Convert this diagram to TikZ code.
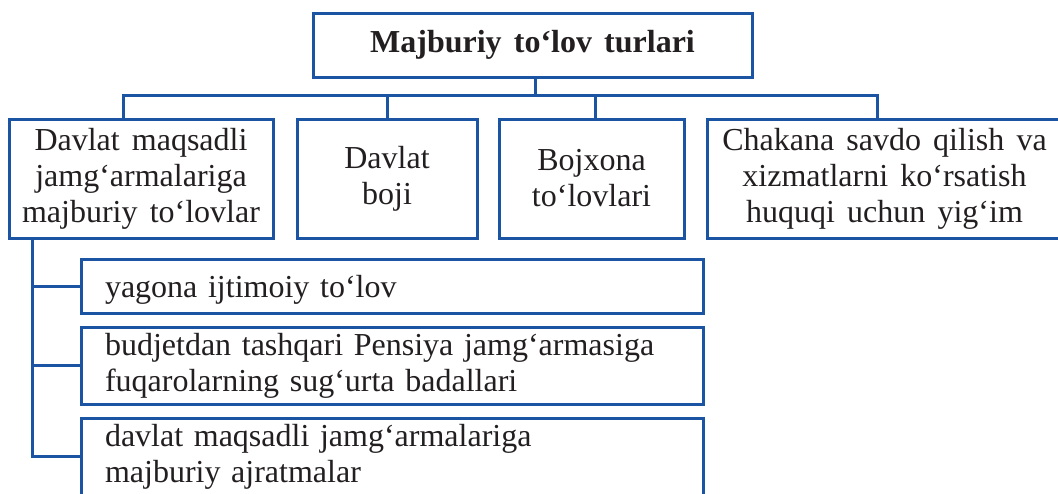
\documentclass[tikz,border=0pt]{standalone}
\usepackage{fontspec}
\setmainfont{Liberation Serif}
\usepackage{xcolor}
\definecolor{frame}{HTML}{1C54A4}
\definecolor{ink}{HTML}{231F20}
\newcommand{\payfont}{\fontsize{32}{36}\selectfont\spaceskip=0.38em plus 0.1em\relax}
\tikzset{
  payBox/.style={draw=frame, line width=3pt, text=ink, font=\payfont, align=center, inner sep=0pt},
  payTitle/.style={payBox, font=\payfont\bfseries},
  paySub/.style={payBox, align=left, text width=574pt, inner xsep=24pt},
  payLink/.style={draw=frame, line width=3pt}
}

\begin{document}
\begin{tikzpicture}[x=1pt,y=-1pt]
  \useasboundingbox (0,0) rectangle (1058,493);
  \clip (0,0) rectangle (1058,493);

  \node[payTitle, minimum width=439pt, minimum height=64pt] (turlar) at (532.5,45) {Majburiy to‘lov turlari};

  \node[payBox, minimum width=264pt, minimum height=119pt] (jamgarma) at (141,178.5) {Davlat maqsadli\\jamg‘armalariga\\majburiy to‘lovlar};
  \node[payBox, minimum width=180pt, minimum height=119pt] (boj) at (387,178.5) {Davlat\\boji};
  \node[payBox, minimum width=185pt, minimum height=119pt] (bojxona) at (591.5,178.5) {Bojxona\\to‘lovlari};
  \node[payBox, minimum width=355pt, minimum height=119pt] (yigim) at (884.5,178.5) {Chakana savdo qilish va\\xizmatlarni ko‘rsatish\\huquqi uchun yig‘im};

  \node[paySub, minimum height=54pt, text depth=0pt] (ijtimoiy) at (392,286) {yagona ijtimoiy to‘lov};
  \node[paySub, minimum height=77pt] (pensiya) at (392,365.5) {budjetdan tashqari Pensiya jamg‘armasiga\\fuqarolarning sug‘urta badallari};
  \node[paySub, minimum height=77pt] (ajratma) at (392,456.5) {davlat maqsadli jamg‘armalariga\\majburiy ajratmalar};

  % top bus
  \coordinate (bus) at (535,95);
  \draw[payLink] ([xshift=2.5pt]turlar.south) -- (bus);
  \draw[payLink] ([xshift=-18pt]jamgarma.north) |- ([xshift=-7.5pt]yigim.north |- bus) -- ([xshift=-7.5pt]yigim.north);
  \draw[payLink] (boj.north) -- (boj.north |- bus);
  \draw[payLink] ([xshift=3.5pt]bojxona.north) -- ([xshift=3.5pt]bojxona.north |- bus);

  % left spine
  \coordinate (spine) at ([xshift=25pt]jamgarma.south west);
  \draw[payLink] (spine) |- (ajratma.west);
  \draw[payLink] (ijtimoiy.west) -- (ijtimoiy.west -| spine);
  \draw[payLink] (pensiya.west) -- (pensiya.west -| spine);
\end{tikzpicture}
\end{document}
